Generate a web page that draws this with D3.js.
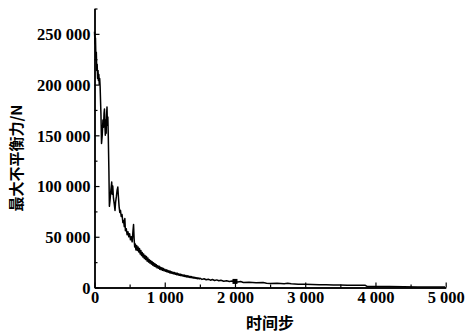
<!DOCTYPE html>
<html><head><meta charset="utf-8">
<script src="https://cdn.jsdelivr.net/npm/d3@7"></script>
<style>
html,body{margin:0;padding:0;background:#fff;}
svg{display:block;}
</style></head>
<body>
<svg id="chart" width="465" height="335"></svg>
<script>
// ---- data ----
const steps = [0,8,14,20,26,32,38,44,50,56,62,68,74,80,92,100,110,120,128,136,142,148,154,160,166,172,178,184,190,196,205,212,220,232,245,252,260,270,282,292,300,312,322,332,340,350,360,370,380,392,404,414,424,432,440,452,464,476,488,500,512,524,536,
548,556,564,572,
580,590,600,610,620,630,640,650,660,670,680,690,700,710,720,730,740,750,760,770,780,790,800,810,820,830,840,850,860,870,880,890,900,910,920,930,940,950,960,970,
980,990,1000,1010,1020,1030,1040,1050,1060,1070,1080,1090,1100,1110,1120,1130,1140,1150,1160,1170,1180,1190,1200,1210,1220,1230,1240,1250,1260,1270,
1280,1290,1300,1310,1320,1330,1340,1350,1360,1370,1380,1390,1400,1410,1420,1430,1440,1450,1460,1470,1480,1490,1500,
1530,1560,1590,1620,1650,1680,1710,1740,1770,1800,1840,1880,1920,1960,2000,2040,2080,2120,2200,2300,2400,2450,2500,2600,2700,2750,2800,2900,3000,3100,3200,3300,3400,3500,3600,3700,3800,3850,3880,4000,4200,4400,4600,4800,4990];
const force = [252000,240000,246000,226000,232000,214000,220000,206000,214000,204000,210000,200000,206000,198000,170000,142000,150000,165000,158000,172000,176000,160000,150000,165000,152000,170000,178000,160000,168000,150000,115000,80000,85000,95000,104000,92000,100000,88000,82000,76000,84000,90000,96000,99000,90000,80000,74000,76000,70000,72000,64000,66000,60000,68000,56000,58000,52000,55000,50000,53000,47000,50000,45000,
56000,62000,48000,40000,
43000,37000,41500,36500,40000,35000,38500,33000,36500,31500,34500,30000,33000,28500,31500,27500,30500,26000,29000,25000,27500,24000,26500,23000,25500,22000,24500,21000,23500,20500,22500,19500,21500,19000,21000,18000,20000,17500,19500,17000,
18800,16500,18000,16000,17500,15500,17000,15000,16500,14500,16000,14000,15500,13800,15000,13400,14800,13000,14300,12600,14000,12300,13500,12000,13200,11700,12800,11400,12500,11100,
12200,10800,11900,10500,11600,10300,11300,10000,11000,9800,10700,9500,10400,9300,10100,9100,9900,8900,9600,8700,9400,8500,9200,
8000,8600,7600,8200,7200,7900,6900,7500,6600,7100,6200,6700,5900,6300,5800,5500,5900,5000,5200,4700,4900,4300,4000,4300,3800,4200,3600,3300,3100,3000,2800,2600,2500,2400,2300,2200,2100,2300,1100,1000,900,700,600,500,400];
const markerSteps = [2000];
const markerForce = [6000];
const xTicks = [0,1000,2000,3000,4000,5000];
const xTickLabels = ["0","1 000","2 000","3 000","4 000","5 000"];
const yTicks = [0,50000,100000,150000,200000,250000];
const yTickLabels = ["0","50 000","100 000","150 000","200 000","250 000"];
const xMinor = [500,1500,2500,3500,4500];
const yMinor = [25000,75000,125000,175000,225000,275000];
const xTitle = "时间步";
const yTitle = "最大不平衡力/N";

// ---- chart ----
const svg = d3.select("#chart");
const x = d3.scaleLinear().domain([0,5000]).range([94.5,445.7]);
const y = d3.scaleLinear().domain([0,275000]).range([287.5,8.5]);

const gx = svg.append("g").attr("transform","translate(0,287.5)")
  .call(d3.axisBottom(x).tickValues(xTicks).tickFormat((d,i)=>xTickLabels[i]).tickSizeInner(-5).tickSizeOuter(0).tickPadding(4));
const gxm = svg.append("g").attr("transform","translate(0,287.5)")
  .call(d3.axisBottom(x).tickValues(xMinor).tickFormat("").tickSizeInner(-3).tickSizeOuter(0));
const gy = svg.append("g").attr("transform","translate(94.5,0)")
  .call(d3.axisLeft(y).tickValues(yTicks).tickFormat((d,i)=>yTickLabels[i]).tickSizeInner(-5).tickSizeOuter(0).tickPadding(4));
const gym = svg.append("g").attr("transform","translate(94.5,0)")
  .call(d3.axisLeft(y).tickValues(yMinor).tickFormat("").tickSizeInner(-3).tickSizeOuter(0));
[gx,gxm,gy,gym].forEach(g=>g.attr("font-family","Liberation Serif").attr("font-size",16.5).attr("font-weight","bold"));
svg.selectAll(".tick text").attr("fill","#000");
svg.selectAll(".domain").attr("stroke","#000").attr("stroke-width",1.4);
svg.selectAll(".tick line").attr("stroke","#000").attr("stroke-width",1.2);
gy.selectAll(".tick text").attr("dy","0.35em");

const pts = steps.map((s,i)=>[s,force[i]]);
svg.append("path").datum(pts)
  .attr("fill","none").attr("stroke","#000").attr("stroke-width",1.5).attr("stroke-linejoin","round")
  .attr("d", d3.line().x(d=>x(d[0])).y(d=>y(d[1])));

svg.selectAll("rect.mk").data(markerSteps).enter().append("rect").attr("class","mk")
  .attr("x",(d)=>x(d)-2.5).attr("y",(d,i)=>y(markerForce[i])-2.5).attr("width",5).attr("height",5).attr("fill","#000");

svg.append("text").text(xTitle).attr("x",270).attr("y",329).attr("text-anchor","middle")
  .attr("font-family","'Noto Sans CJK SC'").attr("font-weight","bold").attr("font-size",16).attr("fill","#000");
svg.append("text").text(yTitle).attr("transform","translate(22,158) rotate(-90)").attr("text-anchor","middle")
  .attr("font-family","'Noto Sans CJK SC'").attr("font-weight","bold").attr("font-size",15).attr("fill","#000");
</script>
</body></html>
